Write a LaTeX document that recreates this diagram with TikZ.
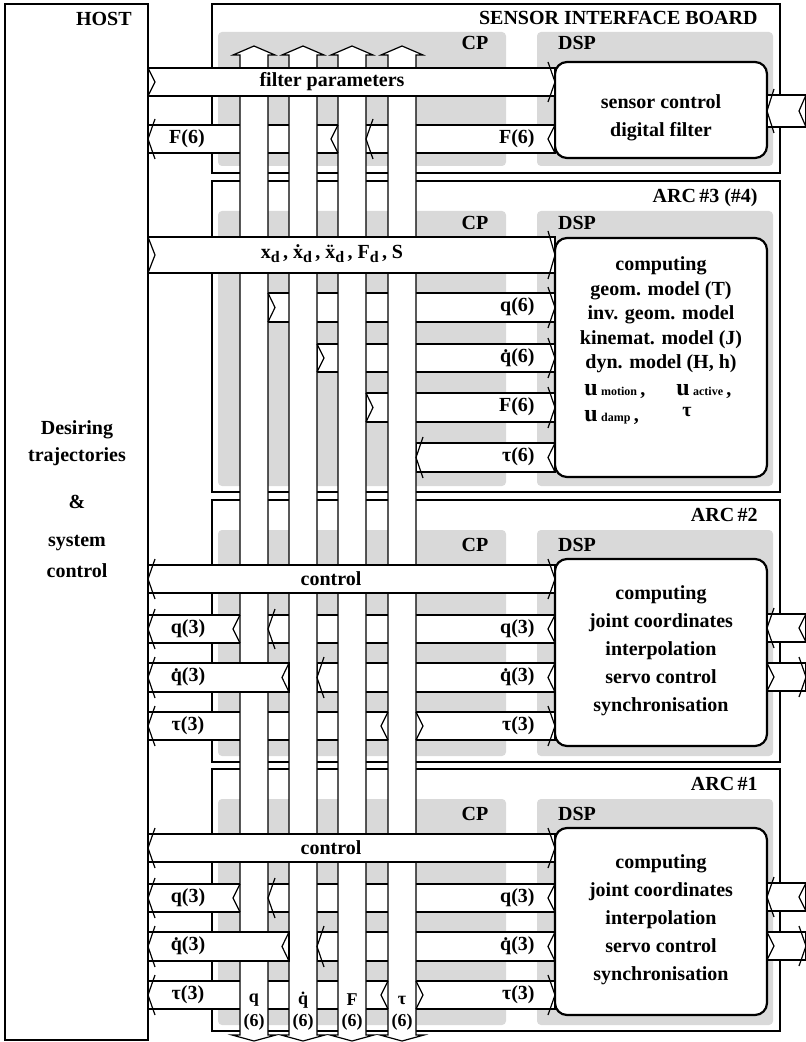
\documentclass[tikz,border=0pt]{standalone}
\usepackage{fontspec}
\setmainfont{Liberation Serif}
\usetikzlibrary{positioning}

\pgfdeclarelayer{board}
\pgfdeclarelayer{wire}
\pgfdeclarelayer{front}
\pgfsetlayers{board,wire,main,front}

% chevrons: heads reach past the band, tails sit inside it
\newcommand{\headL}[3]{\draw[chev] ({#1+7},{#2-6}) -- (#1,{(#2+#3)/2}) -- ({#1+7},{#3+6});}
\newcommand{\headR}[3]{\draw[chev] ({#1-7},{#2-6}) -- (#1,{(#2+#3)/2}) -- ({#1-7},{#3+6});}
\newcommand{\tailL}[3]{\draw[chev] (#1,#2) -- ({#1-7},{(#2+#3)/2}) -- (#1,#3);}
\newcommand{\tailR}[3]{\draw[chev] (#1,#2) -- ({#1+7},{(#2+#3)/2}) -- (#1,#3);}
\newcommand{\dsub}{\raisebox{-0.45ex}{\fontsize{8}{9}\selectfont d}}

% vertical bus, #1 = left edge
\newcommand{\vbus}[2]{%
  \draw[bus] (#1,1035) -- (#1,55) -- ({#1-7},55) -- ({#1+14},46) -- ({#1+35},55)
    -- ({#1+28},55) -- ({#1+28},1035) -- ({#1+36},1035) -- ({#1+14},1041)
    -- ({#1-8},1035) -- cycle;
  \coordinate (#2) at ({#1+14},1000);}

% joint-level board (ARC #1, ARC #2)
\newcommand{\arcboard}[3]{%
  \begin{scope}[shift={(0,#1)}]
    \begin{pgfonlayer}{board}
      \draw[box] (212,500) rectangle (780,762);
      \fill[shade] (218,530) rectangle (506,756);
      \fill[shade] (537,530) rectangle (773,756);
      \draw[dsp] (555,559) rectangle (767,746);
      \node[anchor=east] (#3-title) at (760,515) {#2};
      \node (#3-cp) at (475,545) {CP};
      \node (#3-dsp) at (577,545) {DSP};
      \node[dsptext] (#3-text) at (661,651)
        {computing\\joint coordinates\\interpolation\\servo control\\synchronisation};
    \end{pgfonlayer}
    \begin{pgfonlayer}{wire}
      \draw[band] (148,615) rectangle (555,643);
      \draw[band] (317,663) rectangle (555,692);
      \draw[band] (148,712) rectangle (555,740);
    \end{pgfonlayer}
    \begin{pgfonlayer}{front}
      \draw[band] (148,565) rectangle (555,593);
      \draw[band] (148,663) rectangle (289,692);
      \draw[band] (767,614) rectangle (806,642);
      \draw[band] (767,663) rectangle (806,691);
      \node (#3-ctrl) at (331,579) {control};
      \node (#3-qh) at (188,629) {q(3)};
      \node[anchor=east] (#3-qd) at (537,629) {q(3)};
      \node (#3-qdoth) at (188,677) {\.q(3)};
      \node[anchor=east] (#3-qdotd) at (537,677) {\.q(3)};
      \node (#3-tauh) at (188,726) {τ(3)};
      \node[anchor=east] (#3-taud) at (537,726) {τ(3)};
      \headL{148}{565}{593} \headR{555}{565}{593}
      \headL{148}{615}{643} \tailL{240}{615}{643} \headL{268}{615}{643} \tailL{555}{615}{643}
      \headL{148}{663}{692} \tailL{289}{663}{692} \headL{317}{663}{692} \tailL{555}{663}{692}
      \headL{148}{712}{740} \tailL{388}{712}{740} \tailR{416}{712}{740} \headR{555}{712}{740}
      \headL{767}{614}{642} \tailL{806}{614}{642}
      \tailR{767}{663}{691} \headR{806}{663}{691}
    \end{pgfonlayer}
  \end{scope}}

\begin{document}
\begin{tikzpicture}[x=0.5pt, y=-0.5pt, inner sep=1pt,
    font=\fontsize{10}{12}\selectfont\bfseries,
    box/.style={draw, fill=white, line width=0.8pt},
    shade/.style={fill=black!15, rounded corners=2pt},
    dsp/.style={draw, fill=white, line width=1.1pt, rounded corners=6pt},
    band/.style={draw, fill=white, line width=0.6pt},
    bus/.style={draw, fill=white, line width=0.6pt},
    chev/.style={line width=0.6pt},
    dsptext/.style={align=center, font=\fontsize{10}{14}\selectfont\bfseries},
    buslbl/.style={font=\fontsize{9}{10}\selectfont\bfseries}
  ]
  \useasboundingbox (0,0) rectangle (806,1042);

  % host
  \begin{pgfonlayer}{board}
    \draw[box] (5,4) rectangle (148,1040);
  \end{pgfonlayer}
  \node[anchor=east] (host) at (134,19) {HOST};
  \node (desiring) at (77,430) {Desiring};
  \node (traj) at (77,457) {trajectories};
  \node (amp) at (77,502) {\&};
  \node (system) at (77,543) {system};
  \node (sysctrl) at (77,571) {control};

  % sensor interface board
  \begin{pgfonlayer}{board}
    \draw[box] (212,4) rectangle (780,173);
    \fill[shade] (218,32) rectangle (506,166);
    \fill[shade] (537,32) rectangle (773,166);
    \draw[dsp] (555,62) rectangle (767,158);
    \node[anchor=east] (sib) at (760,18) {SENSOR INTERFACE BOARD};
    \node (sib-cp) at (475,43) {CP};
    \node (sib-dsp) at (577,43) {DSP};
    \node[dsptext] (sib-text) at (661,118) {sensor control\\digital filter};
  \end{pgfonlayer}
  \begin{pgfonlayer}{wire}
    \draw[band] (148,125) rectangle (555,153);
  \end{pgfonlayer}
  \begin{pgfonlayer}{front}
    \draw[band] (148,68) rectangle (555,96);
    \draw[band] (767,95) rectangle (806,127);
    \node (filt) at (332,82) {filter parameters};
    \node (sib-fh) at (187,139) {F(6)};
    \node[anchor=east] (sib-fd) at (537,139) {F(6)};
    \tailR{148}{68}{96} \headR{555}{68}{96}
    \headL{148}{125}{153} \tailL{338}{125}{153} \headL{366}{125}{153} \tailL{555}{125}{153}
    \headL{767}{95}{127} \tailL{806}{95}{127}
  \end{pgfonlayer}

  % ARC #3 (#4): cartesian level
  \begin{pgfonlayer}{board}
    \draw[box] (212,181) rectangle (780,492);
    \fill[shade] (218,211) rectangle (506,486);
    \fill[shade] (537,211) rectangle (773,486);
    \draw[dsp] (555,238) rectangle (767,477);
    \node[anchor=east] (arc3) at (760,198) {ARC\,\#3 (\#4)};
    \node (arc3-cp) at (475,223) {CP};
    \node (arc3-dsp) at (577,223) {DSP};
    \node[dsptext, font=\fontsize{10}{12.2}\selectfont\bfseries] (arc3-text) at (661,315)
      {computing\\geom. model (T)\\inv. geom. model\\kinemat. model (J)\\dyn. model (H, h)};
    \node[anchor=base west] (umot) at (582,395) {{\large u}\,{\fontsize{6}{7}\selectfont motion}\,,};
    \node[anchor=base west] (uact) at (674,395) {{\large u}\,{\fontsize{6}{7}\selectfont active}\,,};
    \node[anchor=base west] (udamp) at (582,422) {{\large u}\,{\fontsize{6}{7}\selectfont damp}\,,};
    \node[anchor=base west] (tauout) at (680,416) {τ};
  \end{pgfonlayer}
  \begin{pgfonlayer}{wire}
    \draw[band] (268,293) rectangle (555,322);
    \draw[band] (317,344) rectangle (555,372);
    \draw[band] (366,393) rectangle (555,422);
    \draw[band] (416,443) rectangle (555,472);
  \end{pgfonlayer}
  \begin{pgfonlayer}{front}
    \draw[band] (148,237) rectangle (555,273);
    \node (xd) at (332,254) {x\dsub\,, \.x\dsub\,, \"x\dsub\,, F\dsub\,, S};
    \node[anchor=east] (arc3-q) at (537,307) {q(6)};
    \node[anchor=east] (arc3-qdot) at (537,358) {\.q(6)};
    \node[anchor=east] (arc3-f) at (537,407) {F(6)};
    \node[anchor=east] (arc3-tau) at (537,457) {τ(6)};
    \tailR{148}{237}{273} \headR{555}{237}{273}
    \tailR{268}{293}{322} \headR{555}{293}{322}
    \tailR{317}{344}{372} \headR{555}{344}{372}
    \tailR{366}{393}{422} \headR{555}{393}{422}
    \headL{416}{443}{472} \tailL{555}{443}{472}
  \end{pgfonlayer}

  % ARC #2 and ARC #1: joint level
  \arcboard{0}{ARC\,\#2}{arc2}
  \arcboard{269}{ARC\,\#1}{arc1}

  % vertical buses
  \vbus{240}{qbus}
  \vbus{289}{qdotbus}
  \vbus{338}{fbus}
  \vbus{388}{taubus}
  \node[buslbl] (qname) at (qbus) {q};
  \node[buslbl] (qdotname) at (qdotbus) {\.q};
  \node[buslbl] (fname) at (fbus) {F};
  \node[buslbl] (tauname) at (taubus) {τ};
  \node[buslbl] (qsix) at (254,1022) {(6)};
  \node[buslbl] (qdotsix) at (303,1022) {(6)};
  \node[buslbl] (fsix) at (352,1022) {(6)};
  \node[buslbl] (tausix) at (402,1022) {(6)};
\end{tikzpicture}
\end{document}
